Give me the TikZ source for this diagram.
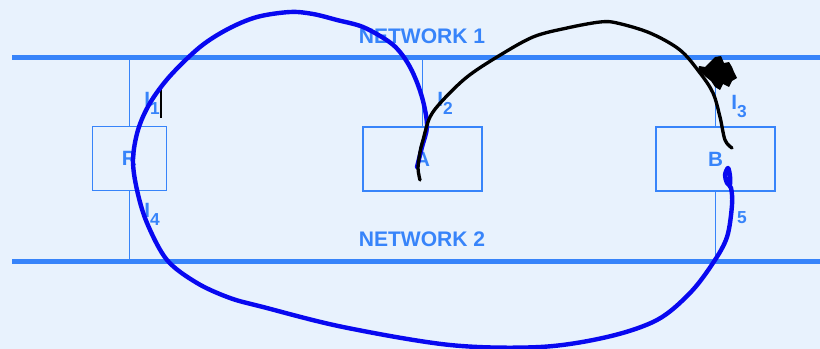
\documentclass[tikz,border=0pt]{standalone}
\usepackage{fontspec}
\setmainfont{Liberation Sans}
\definecolor{bgcol}{RGB}{232,242,253}
\definecolor{netblue}{RGB}{55,132,250}
\definecolor{penblue}{RGB}{8,8,240}
\newcommand\ifsub[1]{\raisebox{-6pt}{\fontsize{13}{13}\selectfont #1}}
\begin{document}
\begin{tikzpicture}[x=0.75pt,y=-0.75pt,
  netline/.style={draw=netblue,line width=3.2pt},
  tap/.style={draw=netblue,line width=0.9pt},
  devbox/.style={draw=netblue,line width=0.9pt,inner sep=0pt,minimum height=48pt,
     font=\fontsize{15.5}{16}\selectfont\bfseries,text=netblue},
  netlabel/.style={inner sep=0pt,font=\fontsize{15.8}{16}\selectfont\bfseries,text=netblue},
  iflabel/.style={inner sep=0pt,anchor=base west,font=\fontsize{15.5}{16}\selectfont\bfseries,text=netblue},
  bluepen/.style={draw=penblue,line width=3.3pt,line cap=round,line join=round},
  blackpen/.style={draw=black,line width=2.5pt,line cap=round,line join=round}]
\fill[bgcol] (0,0) rectangle (820,349);
\useasboundingbox (0,0) rectangle (820,349);

% networks
\coordinate (n1w) at (12,57.5);
\coordinate (n1e) at (820,57.5);
\coordinate (n2w) at (12,261.5);
\coordinate (n2e) at (820,261.5);
\draw[netline] (n1w) -- (n1e);
\draw[netline] (n2w) -- (n2e);
\node[netlabel] (net1) at (422,36.5) {NETWORK 1};
\node[netlabel] (net2) at (422,239.5) {NETWORK 2};

% devices
\node[devbox,minimum width=55.5pt] (R) at (129.3,158.8) {R};
\node[devbox,minimum width=89.25pt] (A) at (422.5,159) {A};
\node[devbox,minimum width=89.25pt] (B) at (715.5,159) {B};

\draw[tap] (R.north) -- (R.north |- n1w);
\draw[tap] (R.south) -- (R.south |- n2w);
\draw[tap] (A.north) -- (A.north |- n1w);
\draw[tap] (B.north) -- (B.north |- n1w);
\draw[tap] (B.south) -- (B.south |- n2w);

% interface labels
\node[iflabel] (i1) at (144,107) {I\ifsub{1}};
\node[iflabel] (i2) at (437,107) {I\ifsub{2}};
\node[iflabel] (i3) at (731,110) {I\ifsub{3}};
\node[iflabel] (i4) at (144,217) {I\ifsub{4}};
\node[iflabel] (i5) at (731,215) {\phantom{I}\ifsub{5}};

% cursor mark
\coordinate (c1) at (161,88);
\coordinate (c2) at (161,118);
\draw[black,line width=1pt] (c1) -- (c2);

% blue hand-drawn loop
\draw[bluepen] plot[smooth,tension=0.55] coordinates {
 (417,167) (422,147) (427,127) (424,105) (418,85) (410,67) (400,52) (388,41)
 (363,27) (337,20) (313,14) (290,12) (257,17) (228,29) (200,47)
 (170,76) (150,103) (138,130) (133,160) (137,190) (147,223) (167,260)
 (197,283) (230,298) (263,307) (343,327) (450,345) (540,347) (607,337)
 (657,320) (690,293) (713,263) (727,237) (732,205) (731,188) (727,183)
 (725,175) (728,168) (730,176) (730,185)};

% black hand-drawn arc
\draw[blackpen] plot[smooth,tension=0.55] coordinates {
 (420,180) (418,168) (420,152) (423,140) (430,117) (443,100) (467,77)
 (497,57) (533,37) (567,28) (600,22) (617,23) (650,33) (680,50) (700,73)
 (713,93) (720,117) (725,140) (732,148)};

% black scribble blob
\fill[black] (705,67) -- (711,61) -- (715,57) -- (721,56) -- (724,63) -- (729,62)
 -- (732,67) -- (734,72) -- (737,78) -- (732,81) -- (729,87) -- (723,84)
 -- (720,90) -- (715,87) -- (711,81) -- (706,77) -- (698,70) -- (699,66) -- cycle;
\end{tikzpicture}
\end{document}
